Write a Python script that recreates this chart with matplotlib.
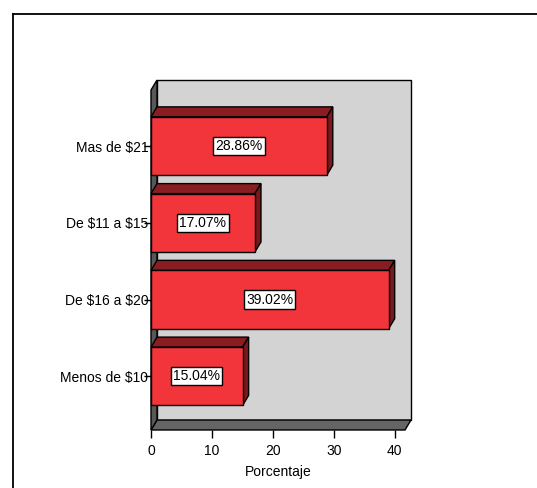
import matplotlib
matplotlib.use("Agg")
import matplotlib.pyplot as plt
from matplotlib.patches import Polygon, Rectangle

plt.rcParams['font.family'] = ['Liberation Sans', 'DejaVu Sans']
plt.rcParams['text.parse_math'] = False

# categories from bottom to top, with their percentages
categorias = ["Menos de $10", "De $16 a $20", "De $11 a $15", "Mas de $21"]
porcentajes = [15.04, 39.02, 17.07, 28.86]
etiquetas = ["15.04%", "39.02%", "17.07%", "28.86%"]
xticks = [0, 10, 20, 30, 40]

W, H = 537, 488
fig = plt.figure(figsize=(W / 100, H / 100), dpi=100)

# front face of the plot box, in pixels
px_left, px_right, px_top, px_bottom = 151, 405, 90, 430
ax = fig.add_axes([px_left / W, 1 - px_bottom / H,
                   (px_right - px_left) / W, (px_bottom - px_top) / H])
xmax = 41.7
ylo, yhi = -0.7, 3.73
ax.set_xlim(0, xmax)
ax.set_ylim(ylo, yhi)
ax.patch.set_visible(False)
for s in ax.spines.values():
    s.set_visible(False)

# depth of the 3D effect, converted from pixels to data units
dpx, dpy = 6, 10
dx = dpx * xmax / (px_right - px_left)
dy = dpy * (yhi - ylo) / (px_bottom - px_top)

edge = dict(edgecolor="black", linewidth=1, clip_on=False)

# back wall, floor, left wall
ax.add_patch(Rectangle((dx, ylo + dy), xmax, yhi - ylo, facecolor="#d3d3d3", zorder=1, **edge))
ax.add_patch(Polygon([(0, ylo), (xmax, ylo), (xmax + dx, ylo + dy), (dx, ylo + dy)],
                     facecolor="#656565", zorder=2, **edge))
ax.add_patch(Polygon([(0, ylo), (dx, ylo + dy), (dx, yhi + dy), (0, yhi)],
                     facecolor="#585858", zorder=2, **edge))

alto = 0.76
for i, (v, lab) in enumerate(zip(porcentajes, etiquetas)):
    y0, y1 = i - alto / 2, i + alto / 2
    ax.add_patch(Polygon([(0, y1), (v, y1), (v + dx, y1 + dy), (dx, y1 + dy)],
                         facecolor="#8a1d21", zorder=3, **edge))
    ax.add_patch(Polygon([(v, y0), (v, y1), (v + dx, y1 + dy), (v + dx, y0 + dy)],
                         facecolor="#7a181b", zorder=3, **edge))
    ax.add_patch(Rectangle((0, y0), v, alto, facecolor="#f2343b", zorder=4, **edge))
    ax.text(v / 2, i, lab, ha="center", va="center", fontsize=10, zorder=5,
            bbox=dict(boxstyle="square,pad=0.15", facecolor="white", edgecolor="black", linewidth=1))

ax.set_yticks(range(len(categorias)))
ax.set_yticklabels(categorias, fontsize=10)
ax.set_xticks(xticks)
ax.set_xticklabels([str(t) for t in xticks], fontsize=10)
ax.tick_params(axis="y", length=5, width=1, pad=-3, direction="out")
ax.tick_params(axis="x", length=6, width=1, pad=4, direction="out")
for t in ax.get_yticklabels():
    t.set_zorder(0)
ax.set_xlabel("Porcentaje", fontsize=10, labelpad=5)

# outer frame: only top and left lines are visible
fig.add_artist(plt.Line2D([13 / W, 1], [1 - 14 / H, 1 - 14 / H], color="black", linewidth=1.3,
                          transform=fig.transFigure))
fig.add_artist(plt.Line2D([13 / W, 13 / W], [0, 1 - 14 / H], color="black", linewidth=1.3,
                          transform=fig.transFigure))

fig.savefig("out.png", dpi=100)
